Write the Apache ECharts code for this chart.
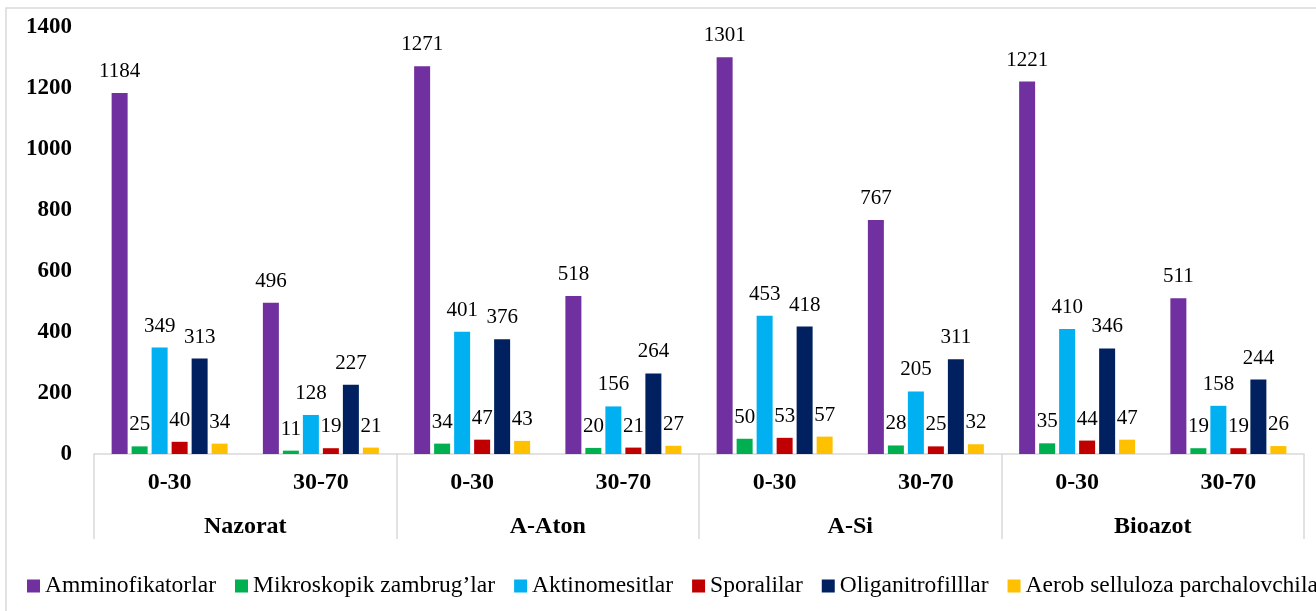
<!DOCTYPE html>
<html>
<head>
<meta charset="utf-8">
<script src="https://cdn.jsdelivr.net/npm/echarts@6/dist/echarts.min.js"></script>
<style>
  html, body { margin: 0; padding: 0; background: #fff; }
  #chart { width: 1316px; height: 611px; }
</style>
</head>
<body>
<div id="chart"></div>
<script>
const depths = ['0-30', '30-70', '0-30', '30-70', '0-30', '30-70', '0-30', '30-70'];
const groups = ['Nazorat', 'A-Aton', 'A-Si', 'Bioazot'];
const seriesNames = ['Amminofikatorlar', 'Mikroskopik zambrug\u2019lar', 'Aktinomesitlar', 'Sporalilar', 'Oliganitrofilllar', 'Aerob selluloza parchalovchilar'];
const colors = ['#7030A0', '#00B050', '#00B0F0', '#C00000', '#002060', '#FFC000'];

const amminofikatorlar = [1184, 496, 1271, 518, 1301, 767, 1221, 511];
const mikroskopik = [25, 11, 34, 20, 50, 28, 35, 19];
const aktinomesitlar = [349, 128, 401, 156, 453, 205, 410, 158];
const sporalilar = [40, 19, 47, 21, 53, 25, 44, 19];
const oliganitrofillar = [313, 227, 376, 264, 418, 311, 346, 244];
const aerob = [34, 21, 43, 27, 57, 32, 47, 26];
const yTicks = [0, 200, 400, 600, 800, 1000, 1200, 1400];

const values = [amminofikatorlar, mikroskopik, aktinomesitlar, sporalilar, oliganitrofillar, aerob];
const font = '"Liberation Serif", "Times New Roman", serif';

const chart = echarts.init(document.getElementById('chart'));

chart.setOption({
    animation: false,
    textStyle: { fontFamily: font },
    graphic: [{
        type: 'rect',
        shape: { x: 6, y: 8, width: 1400, height: 700 },
        style: { fill: 'none', stroke: '#d9d9d9', lineWidth: 1.5 },
        silent: true
    }],
    grid: { left: 94, right: 12, top: 27, bottom: 157 },
    legend: {
        left: 22,
        top: 569,
        width: 2000,
        itemWidth: 13,
        itemHeight: 13,
        itemGap: 19,
        icon: 'rect',
        textStyle: { fontFamily: font, fontSize: 23.5, color: '#000' },
        data: seriesNames
    },
    xAxis: [
        {
            type: 'category',
            data: depths,
            axisLine: { lineStyle: { color: '#d9d9d9', width: 1.5 } },
            axisTick: { show: false },
            axisLabel: { margin: 17, fontSize: 24, fontWeight: 'bold', color: '#000', fontFamily: font }
        },
        {
            type: 'category',
            position: 'bottom',
            offset: 0,
            data: groups,
            axisLine: { show: false },
            axisTick: { show: true, length: 85, lineStyle: { color: '#d9d9d9', width: 1.5 } },
            axisLabel: { margin: 61, fontSize: 24, fontWeight: 'bold', color: '#000', fontFamily: font }
        }
    ],
    yAxis: {
        type: 'value',
        min: yTicks[0],
        max: yTicks[yTicks.length - 1],
        interval: 200,
        splitLine: { show: false },
        axisLine: { show: false },
        axisTick: { show: false },
        axisLabel: {
            margin: 22,
            fontSize: 23,
            fontWeight: 'bold',
            color: '#000',
            fontFamily: font,
            formatter: v => String(v)
        }
    },
    series: seriesNames.map((name, i) => ({
        name: name,
        type: 'bar',
        xAxisIndex: 0,
        data: values[i],
        barWidth: 16,
        barGap: '25%',
        itemStyle: { color: colors[i] },
        label: {
            show: true,
            position: 'top',
            distance: 11,
            fontSize: 21,
            color: '#000',
            fontFamily: font
        }
    }))
});
</script>
</body>
</html>
